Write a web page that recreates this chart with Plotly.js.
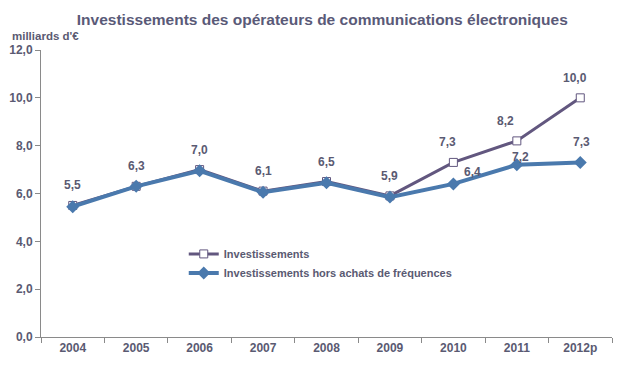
<!DOCTYPE html>
<html><head><meta charset="utf-8">
<script src="https://cdn.plot.ly/plotly-3.0.1.min.js"></script>
<style>html,body{margin:0;padding:0;background:#fff}#c{width:621px;height:367px}</style>
</head><body><div id="c"></div>
<script>
var years = ['2004','2005','2006','2007','2008','2009','2010','2011','2012p'];
var investissements = [5.5, 6.3, 7.0, 6.1, 6.5, 5.9, 7.3, 8.2, 10.0];
var horsFrequences = [5.45, 6.3, 6.95, 6.05, 6.45, 5.85, 6.4, 7.2, 7.3];
var invLabels = [5.5, 6.3, 7.0, 6.1, 6.5, 5.9, 7.3, 8.2, 10.0];
var horsLabels = [null, null, null, null, null, null, 6.4, 7.2, 7.3];

// label placement (style only)
var invShiftX = [0, 0, 0, 0, 0, 0, -6, -11, -5];
var horsShiftX = [0, 0, 0, 0, 0, 0, 19, 4, 1];
var horsShiftY = [0, 0, 0, 0, 0, 0, 12, 8, 20];

function fmt(v){ return v.toFixed(1).replace('.', ','); }

var txtColor = '#5a5a72';
var FF = 'Liberation Sans, Arial, sans-serif';

var traces = [
  {
    x: years, y: investissements, name: 'Investissements',
    type: 'scatter', mode: 'lines+markers',
    line: {color: '#62577f', width: 3},
    marker: {symbol: 'square', size: 8, color: '#ffffff', line: {color: '#62577f', width: 1}}
  },
  {
    x: years, y: horsFrequences, name: 'Investissements hors achats de fréquences',
    type: 'scatter', mode: 'lines+markers',
    line: {color: '#4a79ad', width: 4},
    marker: {symbol: 'diamond', size: 10, color: '#4a79ad'}
  }
];

var annotations = [];
years.forEach(function(yr, i){
  annotations.push({
    x: i, y: investissements[i], xref: 'x', yref: 'y', text: '<b>' + fmt(invLabels[i]) + '</b>',
    showarrow: false, yshift: 20, xshift: invShiftX[i],
    font: {family: FF, size: 12, color: txtColor}
  });
  if (horsLabels[i] !== null) {
    annotations.push({
      x: i, y: horsFrequences[i], xref: 'x', yref: 'y', text: '<b>' + fmt(horsLabels[i]) + '</b>',
      showarrow: false, yshift: horsShiftY[i], xshift: horsShiftX[i],
      font: {family: FF, size: 12, color: txtColor}
    });
  }
});
annotations.push({
  text: '<b>milliards d\'€</b>', xref: 'paper', yref: 'paper',
  x: -0.055, y: 1.022, xanchor: 'left', yanchor: 'bottom', showarrow: false,
  font: {family: FF, size: 11.5, color: txtColor}
});

var layout = {
  width: 621, height: 367,
  margin: {l: 41, r: 9, t: 50, b: 30},
  paper_bgcolor: '#ffffff', plot_bgcolor: '#ffffff',
  separators: ',.',
  showlegend: true,
  font: {family: FF, size: 11, color: txtColor},
  title: {
    text: '<b>Investissements des opérateurs de communications électroniques</b>',
    font: {family: FF, size: 15.5, color: '#5a5a78'},
    x: 0.519, xanchor: 'center', y: 0.948, yanchor: 'middle'
  },
  xaxis: {
    type: 'category', range: [-0.5, 8.5],
    showline: true, linecolor: '#8a8a8a', linewidth: 1,
    ticks: 'outside', tickson: 'boundaries', ticklen: 5, tickcolor: '#8a8a8a',
    showgrid: false, zeroline: false,
    tickfont: {family: FF, size: 12, color: txtColor, weight: 'bold'}
  },
  yaxis: {
    range: [0, 12], dtick: 2, tickformat: '.1f',
    showline: true, linecolor: '#8a8a8a', linewidth: 1,
    ticks: 'outside', ticklen: 5, tickcolor: '#8a8a8a',
    showgrid: false, zeroline: false,
    tickfont: {family: FF, size: 12, color: txtColor, weight: 'bold'}
  },
  legend: {
    x: 0.25, y: 0.34, xanchor: 'left', yanchor: 'top',
    bgcolor: 'rgba(0,0,0,0)', tracegroupgap: 0,
    itemwidth: 30,
    font: {family: FF, size: 11, color: txtColor, weight: 'bold'}
  },
  annotations: annotations
};

Plotly.newPlot('c', traces, layout, {displayModeBar: false, staticPlot: true});
</script>
</body></html>
